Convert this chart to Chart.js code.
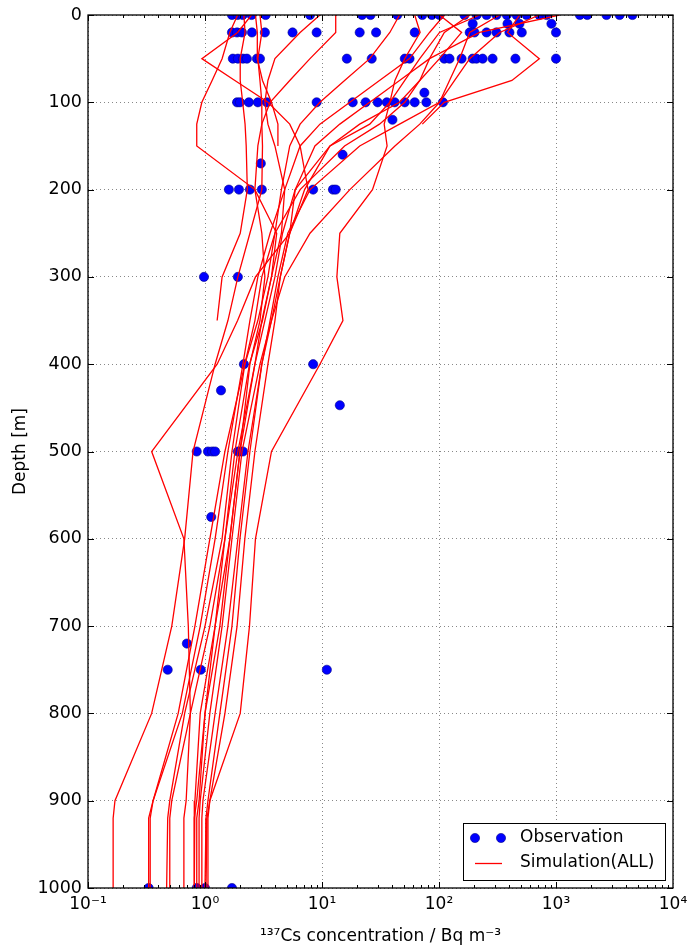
<!DOCTYPE html>
<html>
<head>
<meta charset="utf-8">
<script src="https://cdn.jsdelivr.net/npm/chart.js@4/dist/chart.umd.min.js"></script>
<style>
  html, body { margin: 0; padding: 0; background: #fff; }
  #wrap { width: 692px; height: 947px; }
</style>
</head>
<body>
<div id="wrap"><canvas id="csChart" width="692" height="947"></canvas></div>
<script>
// ---- axis ticks ----
const xTicks = [0.1, 1, 10, 100, 1000, 10000];
const xTickLabels = ['10\u207B\u00B9', '10\u2070', '10\u00B9', '10\u00B2', '10\u00B3', '10\u2074'];
const yTicks = [0, 100, 200, 300, 400, 500, 600, 700, 800, 900, 1000];

// ---- observations: depth levels and the concentrations measured at each ----
const obsDepths = [0, 10, 20, 50, 89, 100, 120, 160, 170, 200, 300, 400, 430, 447, 500, 575, 720, 750, 1000];
const obsConc = [
  [1.7, 1.9, 2.1, 2.5, 3.3, 7.9, 22, 26, 44, 72, 87, 101, 165, 210, 255, 310, 380, 460, 560, 720, 830, 1600, 1850, 2700, 3500, 4500],
  [194, 385, 487, 914],
  [1.7, 1.88, 2.07, 2.52, 3.25, 5.6, 9.0, 21, 29, 62, 183, 201, 255, 310, 400, 510, 1000],
  [1.73, 1.91, 2.11, 2.28, 2.78, 2.95, 16.3, 26.6, 51, 56, 111, 123, 156, 194, 209, 236, 287, 450, 1000],
  [75],
  [1.88, 1.99, 2.37, 2.83, 3.38, 9.0, 18.3, 23.6, 29.9, 35.8, 41.8, 51, 62, 78, 108],
  [40],
  [15],
  [3.0],
  [1.6, 1.95, 2.42, 3.06, 8.4, 12.4, 13.1],
  [0.98, 1.91],
  [2.15, 8.4],
  [1.37],
  [14.2],
  [0.85, 1.06, 1.15, 1.22, 1.91, 2.0, 2.11],
  [1.13],
  [0.70],
  [0.48, 0.92, 11.0],
  [0.33, 0.85, 1.0, 1.7]
];

// ---- simulated profiles, one value per model depth (null = below station bottom) ----
const simDepths = [0, 20, 50, 75, 100, 125, 150, 200, 250, 300, 350, 400, 500, 600, 700, 800, 900, 920, 1000];
const run01 = [2.5, 1.9, 0.94, 1.8, 3.45, 5.3, 6.5, 7.6, 5.3, 2.7, 1.9, 1.27, 0.35, 0.66, 0.72, 0.75, 0.69, 0.66, 0.66];
const run02 = [1.9, 1.63, 1.4, 1.15, 0.94, 0.85, 0.85, 2.67, 4.1, 3.7, 3.1, 2.4, 1.8, 1.48, 1.22, 1.0, 0.89, 0.85, 0.85];
const run03 = [2.15, 2.2, 2.0, 2.0, 2.1, 2.2, 2.25, 2.3, 2.0, 1.4, 1.27, null, null, null, null, null, null, null, null];
const run04 = [2.7, 2.8, 2.8, 3.1, 3.7, 4.2, 4.2, null, null, null, null, null, null, null, null, null, null, null, null];
const run05 = [490, 385, 720, 420, 111, 72, null, null, null, null, null, null, null, null, null, null, null, null, null];
const run06 = [62, 69, 51, 42, 38, 34, 36, 27, 14.2, 13.4, 15.1, 9.6, 3.7, 2.7, 2.4, 2.0, 1.1, 1.04, 1.02];
const run07 = [13.1, 13.1, 7.9, 5.3, 3.6, 3.06, 2.83, 2.67, 3.06, 3.25, 2.95, 2.42, 1.99, 1.63, 1.34, 1.0, 0.85, 0.81, 0.81];
const run08 = [1070, 222, 83, 46, 25.6, 14.2, 8.7, 5.9, 5.3, 4.4, 3.7, 3.06, 2.33, 1.91, 1.57, 1.22, 0.96, 0.94, 0.94];
const run09 = [330, 183, 150, 123, 101, 46, 21, 7.9, 5.1, 4.2, 3.6, 3.06, 2.42, 1.99, 1.7, 1.34, 1.06, 1.02, 1.0];
const run10 = [183, 111, 83, 68.5, 51, 31, 15.6, 6.5, 3.96, 3.06, 2.67, 2.19, 1.7, 1.4, 1.0, 0.67, 0.5, 0.48, 0.47];
const run11 = [111, 83, 56, 31, 17.3, 9.6, 6.5, 4.8, 3.6, 2.83, 2.42, 2.11, 1.57, 1.22, 0.91, 0.64, 0.36, 0.34, 0.34];
const run12 = [46, 38, 25.6, 15.6, 9.6, 6.5, 5.3, 4.5, 3.96, 3.45, 2.83, 2.19, 1.48, 1.1, 0.82, 0.59, 0.36, 0.33, 0.33];
const run13 = [720, 330, 183, 136, 101, 68.5, 42, 17.3, 7.9, 4.8, 3.7, 2.95, 2.07, 1.7, 1.4, 1.1, 0.91, 0.89, 0.89];
const run14 = [222, 101, 68.5, 51, 38, 25.6, 11.7, 5.9, 4.6, 3.96, 3.25, 2.67, 1.91, 1.48, 1.1, 0.75, 0.52, 0.5, 0.5];
const run15 = [9.6, 6.5, 3.96, 3.45, 3.25, 3.45, 3.96, 4.8, 4.5, 3.7, 3.06, 2.67, 1.99, 1.63, 1.22, 0.91, 0.82, 0.81, 0.81];
const run16 = [101, 156, 101, 68.5, 46, 21, 11.7, 7.1, 5.3, 4.4, 3.96, 3.45, 2.67, 2.19, 1.88, 1.48, 1.1, 1.06, 1.06];
const run17 = [2.95, 3.06, 2.83, 2.95, 3.06, 3.06, 3.1, 3.06, 2.42, 1.91, 1.57, 1.22, 0.79, 0.67, 0.52, 0.35, 0.17, 0.164, 0.164];
const simRuns = [run01, run02, run03, run04, run05, run06, run07, run08, run09, run10,
                 run11, run12, run13, run14, run15, run16, run17];

const FONT = "'DejaVu Sans', sans-serif";
const BLUE = '#0000ff';
const RED = '#ff0000';

// build datasets
const obsPoints = [];
obsDepths.forEach((d, i) => obsConc[i].forEach(v => obsPoints.push({ x: v, y: d })));

const datasets = [{
  label: 'Observation',
  data: obsPoints,
  showLine: false,
  pointRadius: 4.6,
  pointBackgroundColor: BLUE,
  pointBorderColor: '#00008b',
  pointBorderWidth: 0.6,
  clip: 0,
  order: 2
}];
simRuns.forEach((run, k) => {
  datasets.push({
    label: k === 0 ? 'Simulation(ALL)' : '',
    data: simDepths.map((d, i) => ({ x: run[i], y: d })).filter(p => p.x !== null),
    showLine: true,
    borderColor: RED,
    borderWidth: 1.3,
    pointRadius: 0,
    tension: 0,
    clip: 0,
    order: 1
  });
});

// frame, inward tick marks and the legend box
const frameAndLegend = {
  id: 'frameAndLegend',
  afterDatasetsDraw(chart) {
    const { ctx, chartArea: a, scales: { x, y } } = chart;
    ctx.save();
    ctx.strokeStyle = '#000';
    ctx.lineWidth = 1;
    ctx.beginPath();
    // minor + major ticks on the log axis, top and bottom
    for (let e = -1; e <= 3; e++) {
      for (let m = 1; m <= 9; m++) {
        const px = Math.round(x.getPixelForValue(m * Math.pow(10, e))) + 0.5;
        const len = m === 1 ? 6 : 3;
        ctx.moveTo(px, a.bottom); ctx.lineTo(px, a.bottom - len);
        ctx.moveTo(px, a.top); ctx.lineTo(px, a.top + len);
      }
    }
    yTicks.forEach(d => {
      const py = Math.round(y.getPixelForValue(d)) + 0.5;
      ctx.moveTo(a.left, py); ctx.lineTo(a.left + 6, py);
      ctx.moveTo(a.right, py); ctx.lineTo(a.right - 6, py);
    });
    ctx.stroke();
    ctx.lineWidth = 1.3;
    ctx.strokeRect(a.left, a.top, a.right - a.left, a.bottom - a.top);

    // legend
    const lx = 463, ly = 823, lw = 202, lh = 57;
    ctx.fillStyle = '#fff';
    ctx.fillRect(lx, ly, lw, lh);
    ctx.lineWidth = 1;
    ctx.strokeRect(lx + 0.5, ly + 0.5, lw, lh);
    [475, 501].forEach(cx => {
      ctx.beginPath();
      ctx.arc(cx, 838, 4.6, 0, Math.PI * 2);
      ctx.fillStyle = BLUE; ctx.fill();
      ctx.strokeStyle = '#00008b'; ctx.lineWidth = 0.6; ctx.stroke();
    });
    ctx.beginPath();
    ctx.strokeStyle = RED; ctx.lineWidth = 1.3;
    ctx.moveTo(475, 863.5); ctx.lineTo(502, 863.5);
    ctx.stroke();
    ctx.fillStyle = '#000';
    ctx.font = '17px ' + FONT;
    ctx.textBaseline = 'middle';
    ctx.fillText('Observation', 520, 838);
    ctx.fillText('Simulation(ALL)', 520, 863);
    ctx.restore();
  }
};

new Chart(document.getElementById('csChart'), {
  type: 'scatter',
  data: { datasets },
  options: {
    responsive: false,
    animation: false,
    devicePixelRatio: 1,
    layout: { padding: { top: 15, right: 19, left: 0, bottom: 0 } },
    plugins: { legend: { display: false }, tooltip: { enabled: false } },
    scales: {
      x: {
        type: 'logarithmic',
        min: 0.1,
        max: 10000,
        afterBuildTicks: s => { s.ticks = xTicks.map(v => ({ value: v })); },
        afterFit: s => { s.height = 59; s.paddingLeft = 0; s.paddingRight = 0; },
        ticks: {
          autoSkip: false, maxRotation: 0, padding: 6, color: '#000',
          font: { family: FONT, size: 17 },
          callback: (v, i) => xTickLabels[i]
        },
        grid: { color: '#888', lineWidth: 1, drawTicks: false },
        border: { display: false, dash: [1, 3] },
        title: {
          display: true,
          text: '\u00B9\u00B3\u2077Cs concentration / Bq m\u207B\u00B3',
          color: '#000', font: { family: FONT, size: 17 },
          padding: { top: 2, bottom: 0 }
        }
      },
      y: {
        type: 'linear',
        reverse: true,
        min: 0,
        max: 1000,
        afterBuildTicks: s => { s.ticks = yTicks.map(v => ({ value: v })); },
        afterFit: s => { s.width = 88; s.paddingTop = 0; s.paddingBottom = 0; },
        ticks: {
          padding: 6, color: '#000', font: { family: FONT, size: 17.5 },
          callback: v => String(v)
        },
        grid: { color: '#888', lineWidth: 1, drawTicks: false },
        border: { display: false, dash: [1, 3] },
        title: {
          display: true,
          text: 'Depth [m]',
          color: '#000', font: { family: FONT, size: 17 },
          padding: { top: 10, bottom: 0 }
        }
      }
    }
  },
  plugins: [frameAndLegend]
});
</script>
</body>
</html>
